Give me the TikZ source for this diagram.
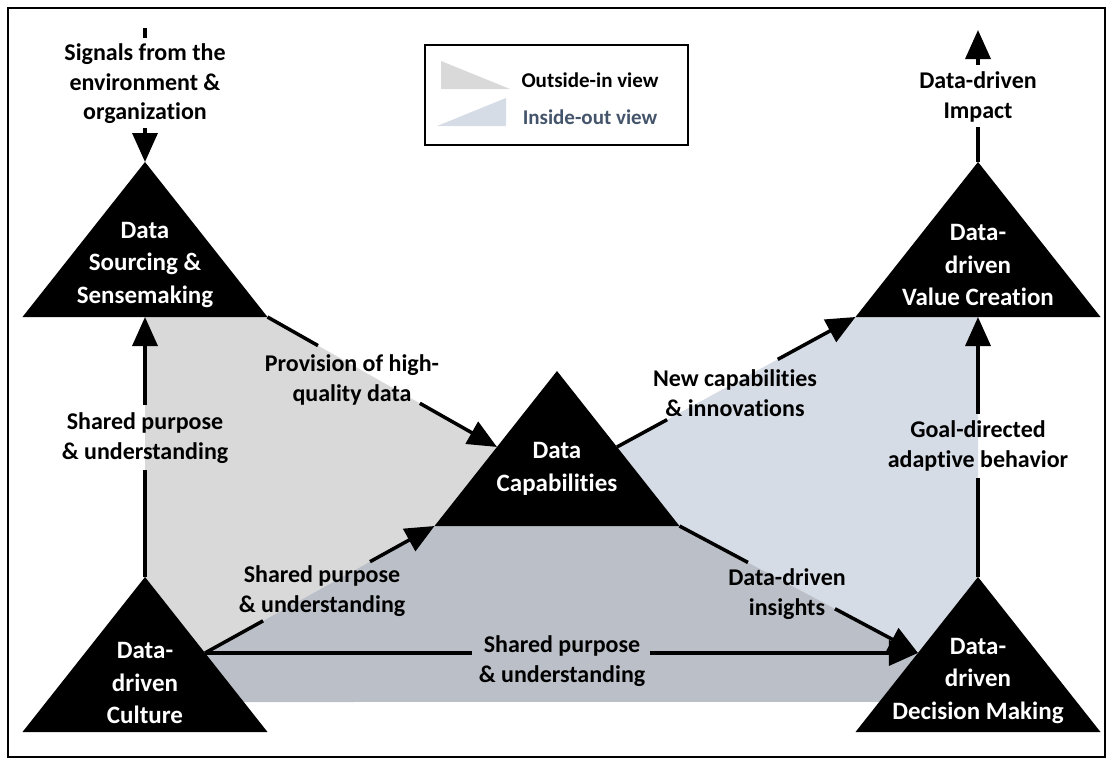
\documentclass[tikz,border=0pt]{standalone}
\usepackage{fontspec}
\setmainfont{Carlito}[Ligatures=NoCommon]
\usetikzlibrary{arrows.meta,calc}
\definecolor{lgray}{HTML}{D9D9D9}
\definecolor{lblue}{HTML}{D6DCE5}
\definecolor{dgray}{HTML}{BBBFC7}
\definecolor{legtext}{HTML}{44546A}
\newcommand\mytricoords[3]{%
  \coordinate (#1-a) at (#2,#3);
  \coordinate (#1-l) at ({#2-122.5},{#3+155});
  \coordinate (#1-r) at ({#2+122.5},{#3+155});
  \coordinate (#1-b) at (#2,{#3+155});
  \coordinate (#1-lm) at ($(#1-a)!0.49!(#1-l)$);
  \coordinate (#1-rm) at ($(#1-a)!0.49!(#1-r)$);}
\begin{document}
\begin{tikzpicture}[x=1pt,y={(0pt,-1pt)},
  lab/.style={font=\bfseries\fontsize{24}{29.5}\selectfont,align=center,inner sep=0pt},
  tritext/.style={font=\bfseries\fontsize{25}{32.5}\selectfont,align=center,text=white,inner sep=0pt},
  legtxt/.style={font=\bfseries\fontsize{21}{25}\selectfont,inner sep=0pt},
  conn/.style={line width=3.5pt},
  arr/.style={conn,-{Triangle[length=29pt,width=25pt]}},
  trishape/.style={fill=black}]
\useasboundingbox (0,0) rectangle (1112,764);
\draw[line width=2pt] (8,8) rectangle (1105,757);
% triangle corner coordinates
\mytricoords{tl}{145}{162}
\mytricoords{tr}{978}{162}
\mytricoords{c}{557}{371}
\mytricoords{bl}{145}{577}
\mytricoords{br}{978}{577}
\coordinate (sigtop) at (145,28);
\coordinate (imptop) at (978,30);
% shaded regions
\fill[lgray] (tl-b) -- (tl-r) -- (c-lm) -- (c-l) -- (bl-rm) -- (bl-rm -| bl-a) -- cycle;
\fill[lblue] (c-rm) -- (tr-l) -- (tr-b) -- (br-lm -| br-a) -- (br-lm) -- (c-r) -- cycle;
\fill[dgray] (bl-rm) -- (c-l) -- (c-r) -- (br-lm) -- ++(0,49) -- (bl-rm |- 0,702) -- cycle;
% triangles
\foreach \t in {tl,tr,c,bl,br}{\fill[trishape] (\t-a) -- (\t-l) -- (\t-r) -- cycle;}
\node[tritext] (tlT) at (145,265) {Data\\Sourcing \&\\Sensemaking};
\node[tritext] (trT) at (978,265) {Data-\\driven\\Value Creation};
\node[tritext] (cT) at (557,469) {Data\\Capabilities};
\node[tritext] (blT) at (145,683) {Data-\\driven\\Culture};
\node[tritext] (brT) at (978,681) {Data-\\driven\\Decision Making};
% legend
\draw[line width=1.5pt] (425,45) rectangle (688,145);
\fill[lgray] (441,61) -- (441,89) -- (510,89) -- cycle;
\fill[lblue] (437,126) -- (506,98) -- (506,126) -- cycle;
\node[legtxt] (legO) at (590,80) {Outside-in view};
\node[legtxt,text=legtext] (legI) at (590,117) {Inside-out view};
% labels
\node[lab] (lSig) at (145,84) {Signals from the\\environment \&\\organization};
\node[lab] (lImp) at (978,97) {Data-driven\\Impact};
\node[lab] (lA) at (145,438) {Shared purpose\\\& understanding};
\node[lab] (lB) at (352,380) {Provision of high-\\quality data};
\node[lab] (lC) at (735,393) {New capabilities\\\& innovations};
\node[lab] (lD) at (787,594) {Data-driven\\insights};
\node[lab] (lE) at (322,591) {Shared purpose\\\& understanding};
\node[lab] (lF) at (562,661) {Shared purpose\\\& understanding};
\node[lab] (lG) at (978,446) {Goal-directed\\adaptive behavior};
% gap points on connectors
\path (sigtop) -- coordinate[pos=0.075] (i1) coordinate[pos=0.746] (i2) (tl-a);
\path (tr-a) -- coordinate[pos=0.265] (h1) coordinate[pos=0.735] (h2) (imptop);
\path (bl-a) -- coordinate[pos=0.41] (a1) coordinate[pos=0.66] (a2) (tl-b);
\path (tl-r) -- coordinate[pos=0.22] (b1) coordinate[pos=0.664] (b2) (c-lm);
\path (c-rm) -- coordinate[pos=0.21] (c1) coordinate[pos=0.674] (c2) (tr-l);
\path (c-r) -- coordinate[pos=0.287] (d1) coordinate[pos=0.652] (d2) (br-lm);
\path (bl-rm) -- coordinate[pos=0.253] (e1) coordinate[pos=0.719] (e2) (c-l);
\path (bl-rm) -- coordinate[pos=0.374] (f1) coordinate[pos=0.624] (f2) (br-lm);
\path (br-a) -- coordinate[pos=0.38] (g1) coordinate[pos=0.627] (g2) (tr-b);
% connectors
\draw[conn] (sigtop) -- (i1); \draw[arr] (i2) -- (tl-a);
\draw[conn] (tr-a) -- (h1); \draw[arr] (h2) -- (imptop);
\draw[conn] (bl-a) -- (a1); \draw[arr] (a2) -- (tl-b);
\draw[conn] (tl-r) -- (b1); \draw[arr] (b2) -- (c-lm);
\draw[conn] (c-rm) -- (c1); \draw[arr] (c2) -- (tr-l);
\draw[conn] (c-r) -- (d1); \draw[arr] (d2) -- (br-lm);
\draw[conn] (bl-rm) -- (e1); \draw[arr] (e2) -- (c-l);
\draw[conn] (bl-rm) -- (f1); \draw[arr] (f2) -- (br-lm);
\draw[conn] (br-a) -- (g1); \draw[arr] (g2) -- (tr-b);
\end{tikzpicture}
\end{document}
